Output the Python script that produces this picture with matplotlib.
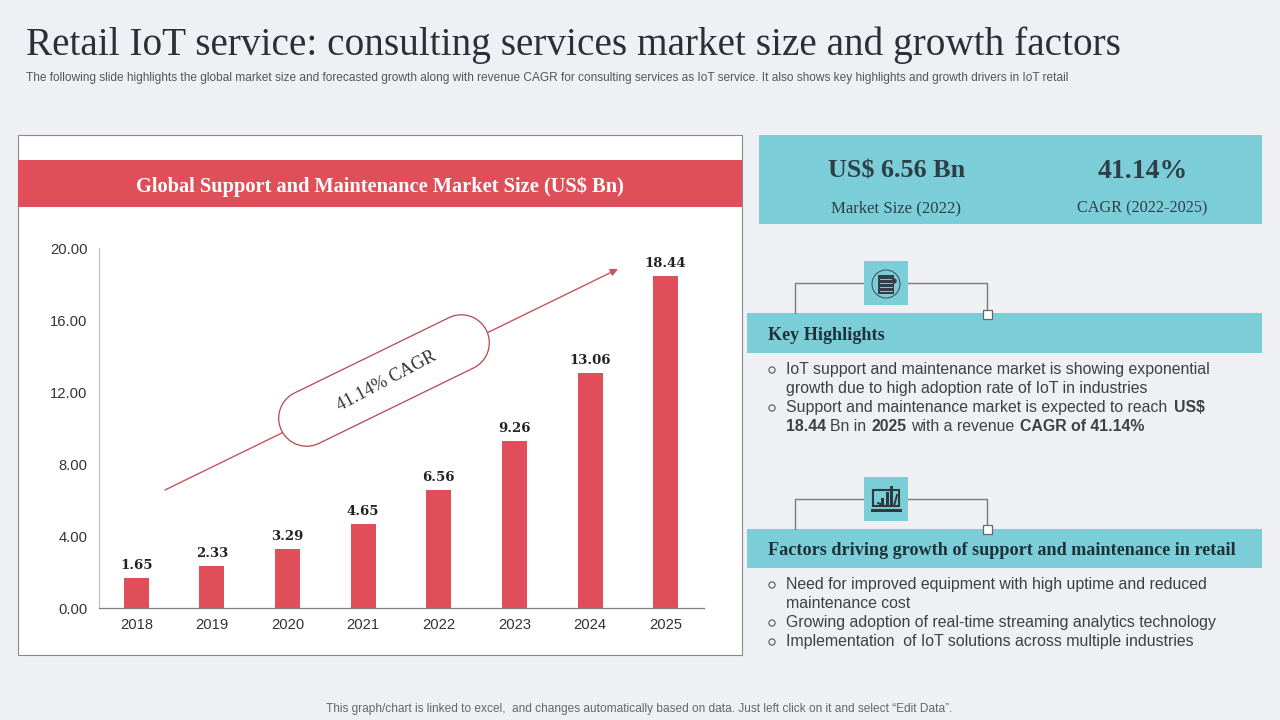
"""
Retail IoT slide: market size bar chart plus the highlight panels on the right
"""

import numpy as np
import matplotlib
matplotlib.use('Agg')
import matplotlib.pyplot as plt
from matplotlib.patches import Rectangle, Circle, Polygon
from matplotlib.transforms import Affine2D

# ─── Data ────────────────────────────────────────────────────────────────────

YEARS = ['2018', '2019', '2020', '2021', '2022', '2023', '2024', '2025']
MARKET_SIZE = [1.65, 2.33, 3.29, 4.65, 6.56, 9.26, 13.06, 18.44]
Y_TICKS = [0, 4, 8, 12, 16, 20]

TITLE = 'Retail IoT service: consulting services market size and growth factors'
SUBTITLE = ('The following slide highlights the global market size and forecasted growth along with '
            'revenue CAGR for consulting services as IoT service. It also shows key highlights and '
            'growth drivers in IoT retail')
FOOTNOTE = 'This graph/chart is linked to excel,  and changes automatically based on data. Just left click on it and select \u201cEdit Data\u201d.'
CHART_TITLE = 'Global Support and Maintenance Market Size (US$ Bn)'

BG = '#EFF0F3'
RED = '#E04E59'
TEAL = '#7BCDD8'
DARK = '#262B30'
TEXT = '#404040'
SERIF = 'Liberation Serif'
SANS = 'Liberation Sans'

fig = plt.figure(figsize=(12.8, 7.2), dpi=100, facecolor=BG)

# overlay in slide pixels, everything that is not the chart goes here
ov = fig.add_axes([0, 0, 1, 1])
ov.set_xlim(0, 1280)
ov.set_ylim(720, 0)
ov.axis('off')


def box(x0, y0, x1, y1, color, edge='none', lw=0, z=1):
    ov.add_patch(Rectangle((x0, y0), x1 - x0, y1 - y0, facecolor=color, edgecolor=edge, linewidth=lw, zorder=z))


# y is the middle of the capitals, so lines with descenders stay on the same row
def serif(x, y, s, size, weight='normal', color=DARK, ha='left'):
    return ov.text(x, y + 0.46 * size, s, fontsize=size, fontweight=weight, color=color, family=SERIF,
                   ha=ha, va='baseline', zorder=5)


def sans(x, y, s, size=11.4, weight='normal', color=TEXT, ha='left'):
    return ov.text(x, y + 0.42 * size, s, fontsize=size, fontweight=weight, color=color, family=SANS,
                   ha=ha, va='baseline', zorder=5)


# ─── Heading ─────────────────────────────────────────────────────────────────

serif(26, 42, TITLE, 28.3, color='#2B3036')
sans(26, 77, SUBTITLE, 8.6, color='#555555')
sans(639, 708, FOOTNOTE, 8.58, color='#666666', ha='center')

# ─── Chart panel ─────────────────────────────────────────────────────────────

box(18, 135, 742, 654.5, 'white', edge='#8A8A8A', lw=0.8)
box(18, 160, 742, 207, RED, z=2)
serif(380, 185, CHART_TITLE, 14.7, weight='bold', color='white', ha='center')

ax = fig.add_axes([98.5 / 1280, 1 - 608 / 720, 605 / 1280, 360 / 720], zorder=2)
ax.patch.set_alpha(0)
x = np.arange(len(YEARS))
ax.bar(x, MARKET_SIZE, width=0.33, color=RED, zorder=3)
for xi, v in zip(x, MARKET_SIZE):
    ax.text(xi, v + 0.33, f'{v:.2f}', ha='center', va='bottom', fontsize=9.5,
            fontweight='bold', family='DejaVu Serif', color='#222222')
ax.set_xlim(-0.5, 7.5)
ax.set_ylim(0, 20)
ax.set_xticks(x)
ax.set_xticklabels(YEARS)
ax.set_yticks(Y_TICKS)
ax.set_yticklabels([f'{t:.2f}' for t in Y_TICKS])
ax.tick_params(axis='both', length=0, labelsize=10.6, labelcolor='#333333')
ax.tick_params(axis='x', pad=7)
ax.tick_params(axis='y', pad=8)
for lab in ax.get_xticklabels() + ax.get_yticklabels():
    lab.set_family(SANS)
for side in ['top', 'right']:
    ax.spines[side].set_visible(False)
ax.spines['left'].set_color('#BFBFBF')
ax.spines['left'].set_linewidth(0.8)
ax.spines['bottom'].set_color('#7F7F7F')
ax.spines['bottom'].set_linewidth(0.9)

# CAGR arrow and pill, drawn above the chart axes
top = fig.add_axes([0, 0, 1, 1], zorder=3)
top.set_xlim(0, 1280)
top.set_ylim(720, 0)
top.axis('off')
top.annotate('', xy=(618, 269), xytext=(165, 490),
             arrowprops=dict(arrowstyle='-|>', color='#C8545B', lw=1.0, mutation_scale=11, shrinkA=0, shrinkB=0))

# stadium outline, FancyBboxPatch corners come out too square for this
cx, cy, half_len, rad = 384, 380.5, 86, 28
t = np.linspace(-np.pi / 2, np.pi / 2, 40)
pts = np.vstack([np.column_stack([cx + half_len + rad * np.cos(t), cy + rad * np.sin(t)]),
                 np.column_stack([cx - half_len - rad * np.cos(t), cy - rad * np.sin(t)])])
rot = Affine2D().rotate_deg_around(cx, cy, -26) + top.transData
top.add_patch(Polygon(pts, closed=True, facecolor='white', edgecolor='#B5474F', linewidth=0.9,
                      transform=rot, zorder=4))
top.text(cx + 3, cy + 1, '41.14% CAGR', rotation=28, rotation_mode='anchor', ha='center', va='center',
         fontsize=13, family=SERIF, color='#333333', zorder=5)

# ─── Right side KPI box ──────────────────────────────────────────────────────

box(759, 135, 1262, 224, TEAL)
serif(897, 169, 'US$ 6.56 Bn', 18.8, weight='bold', color='#2E3F47', ha='center')
serif(1143, 169, '41.14%', 20, weight='bold', color='#2E3F47', ha='center')
serif(896, 207, 'Market Size (2022)', 12.1, color='#2E3F47', ha='center')
serif(1142, 207, 'CAGR (2022-2025)', 11.7, color='#2E3F47', ha='center')


# ─── Section headers with connector and icon tile ────────────────────────────

def section(y_band, y_end, y_line, y_tile, y_sq, label):
    box(747, y_band, 1262, y_end, TEAL)
    ov.plot([795, 795, 864], [y_band, y_line, y_line], color='#7A7A7A', lw=1.0, zorder=2)
    ov.plot([908, 987, 987], [y_line, y_line, y_sq], color='#7A7A7A', lw=1.0, zorder=2)
    box(864, y_tile, 908, y_tile + 44, TEAL, z=3)
    box(983, y_sq - 4.5, 991.5, y_sq + 4.5, 'white', edge='#5F6B6E', lw=0.9, z=4)
    serif(768, (y_band + y_end) / 2 + 0.5, label, 13.1, weight='bold', color='#1F3138')


section(313, 353, 283, 261, 314, 'Key Highlights')
section(529, 568, 499, 477, 529, 'Factors driving growth of support and maintenance in retail')

# notebook icon
ov.add_patch(Circle((886, 284), 14, facecolor='none', edgecolor='#3F5A63', lw=0.8, zorder=5))
box(878, 275, 894, 294, '#333F46', z=5)
for yy in [279, 283, 287, 291]:
    ov.plot([880, 892], [yy, yy], color=TEAL, lw=0.7, zorder=6)
ov.add_patch(Circle((894, 281), 2, color='#333F46', zorder=6))

# laptop chart icon
ov.add_patch(Polygon([[873, 490], [899, 490], [899, 506], [873, 506]], closed=True,
                     facecolor='none', edgecolor='#2E3A40', lw=1.5, zorder=5))
box(871, 508.5, 902, 511.5, '#2E3A40', z=5)
for x0, yy in [(881, 498), (885.5, 492), (890, 486)]:
    box(x0, yy, x0 + 3.2, 505, '#2E3A40', z=6)
ov.plot([878, 885, 894, 897], [503, 506, 506, 495], color='#2E3A40', lw=1.4, zorder=6)

# ─── Bullet lists ────────────────────────────────────────────────────────────


def bullet(y):
    ov.add_patch(Circle((772, y + 1), 3.1, facecolor='none', edgecolor='#555555', lw=0.8, zorder=5))


bullet(369)
sans(786, 369, 'IoT support and maintenance market is showing exponential')
sans(786, 388, 'growth due to high adoption rate of IoT in industries')
bullet(407)
sans(786, 407, 'Support and maintenance market is expected to reach')
sans(1174, 407, 'US$', weight='bold')
sans(786, 426, '18.44', weight='bold')
sans(830, 426, 'Bn in')
sans(871, 426, '2025', weight='bold')
sans(911, 426, 'with a revenue')
sans(1020.5, 426, 'CAGR of 41.14%', weight='bold')

bullet(584)
sans(786, 584, 'Need for improved equipment with high uptime and reduced')
sans(786, 603, 'maintenance cost')
bullet(622)
sans(786, 622, 'Growing adoption of real-time streaming analytics technology')
bullet(641)
sans(786, 641, 'Implementation  of IoT solutions across multiple industries')

fig.savefig('out.png', dpi=100, facecolor=BG)
